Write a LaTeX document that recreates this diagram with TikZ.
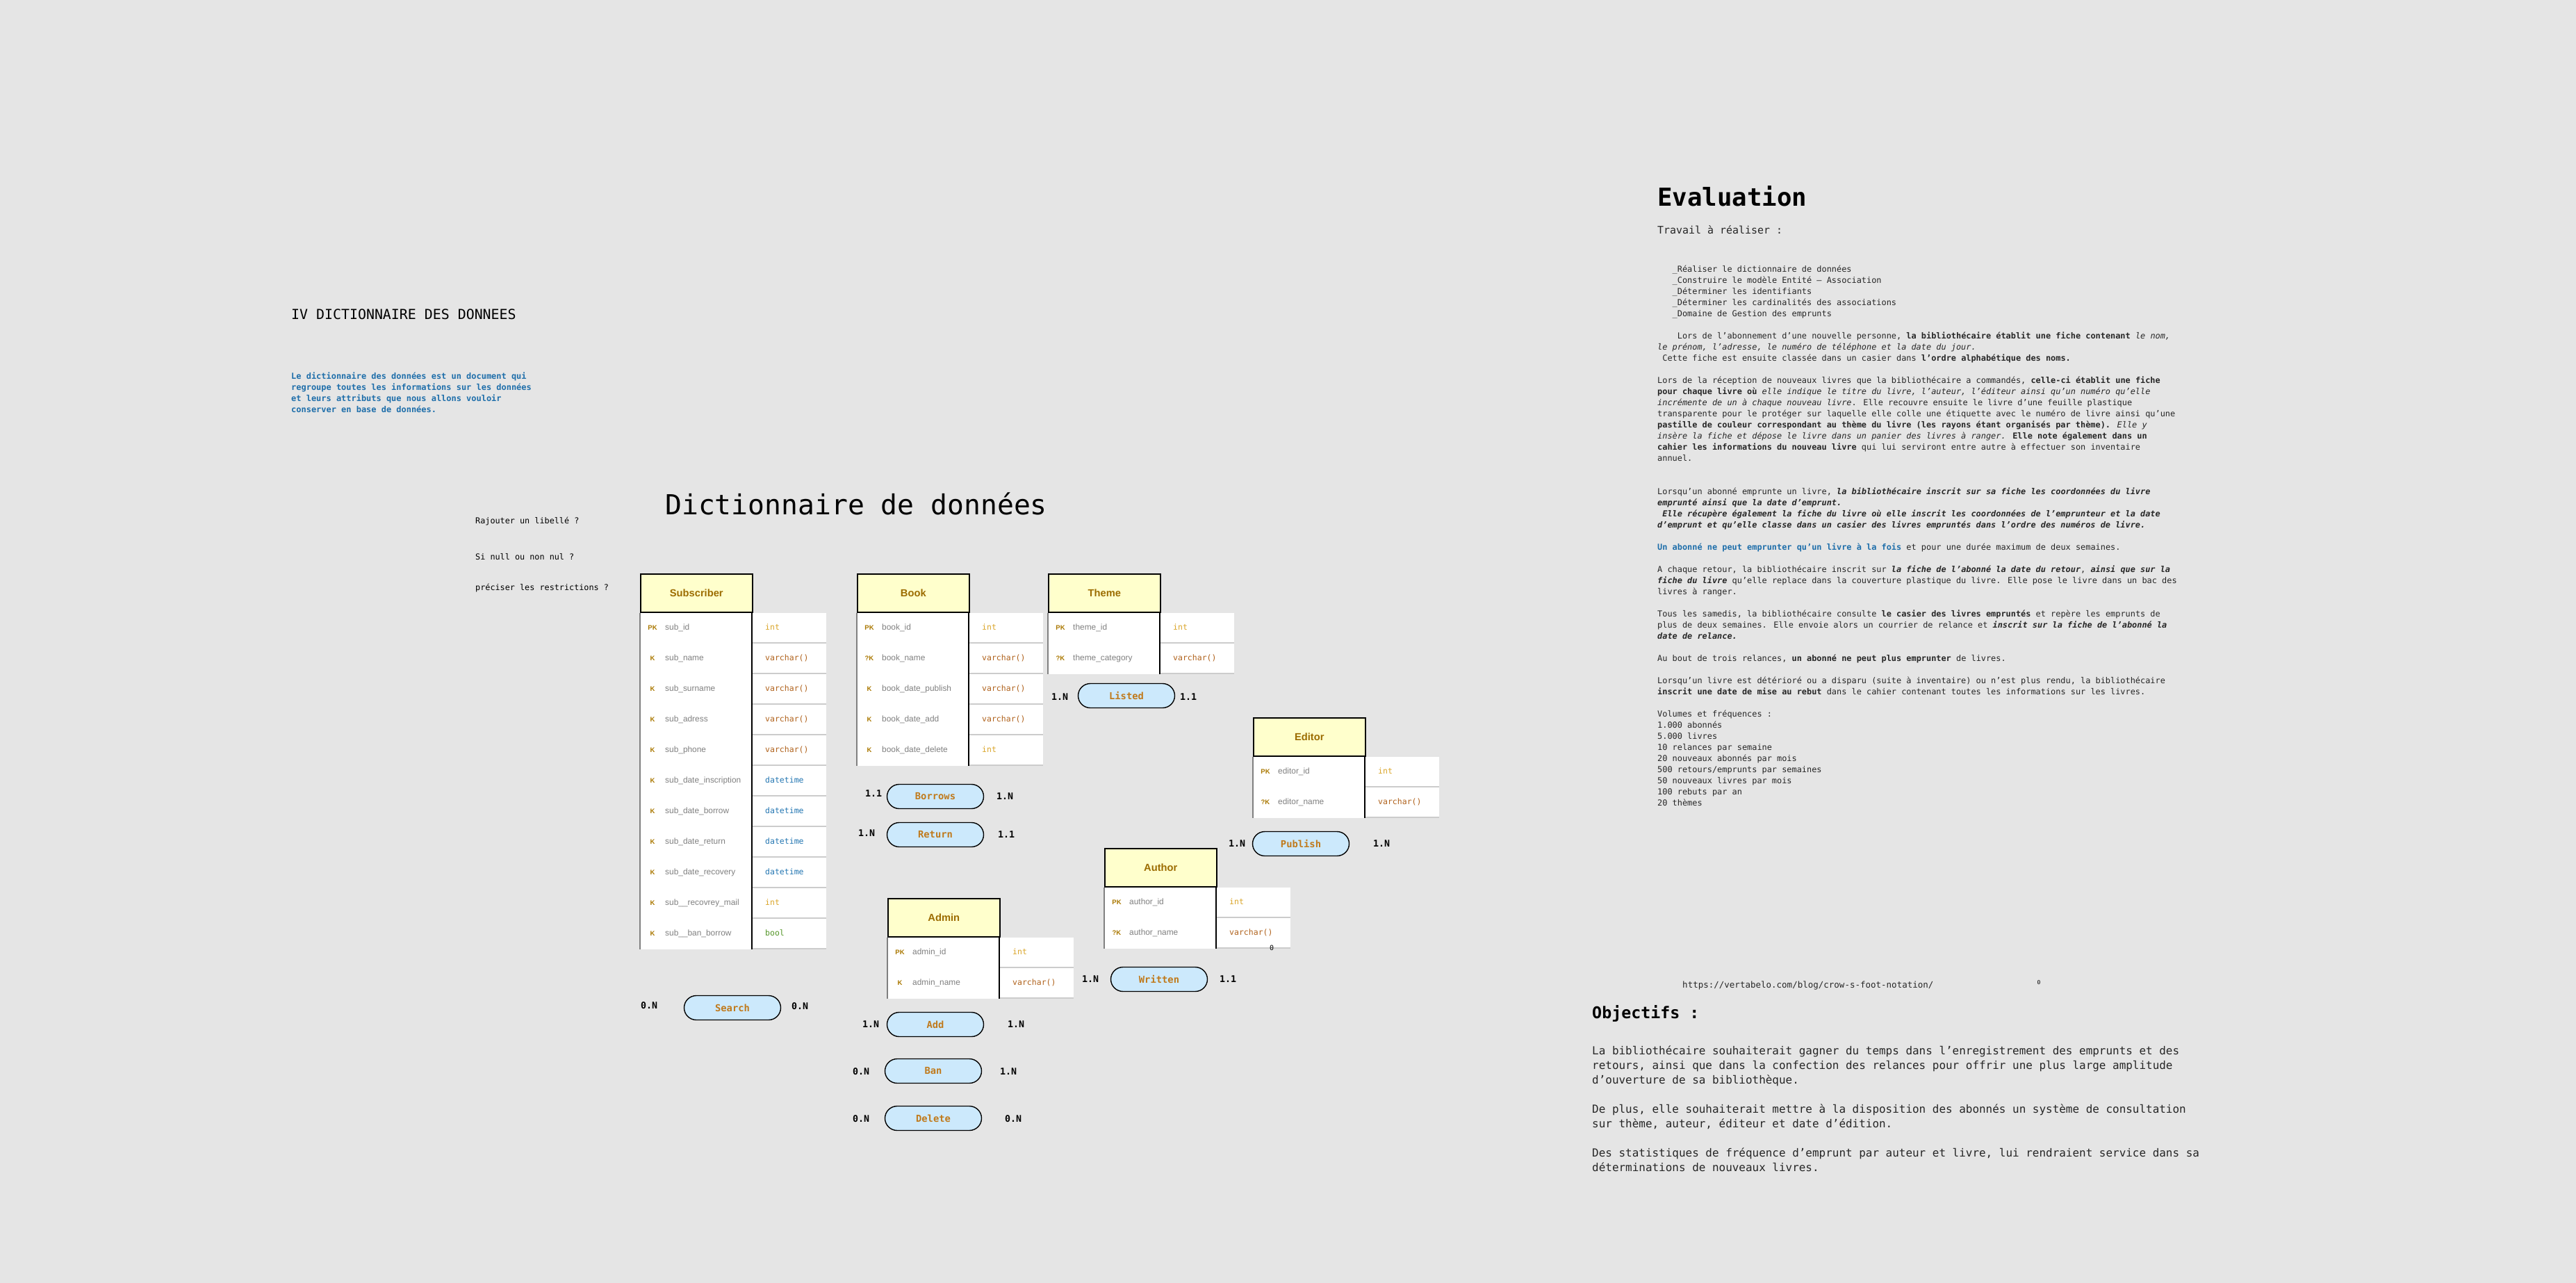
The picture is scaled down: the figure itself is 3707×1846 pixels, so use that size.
\documentclass[tikz,border=0pt]{standalone}
\usepackage{fontspec}
\setmainfont{DejaVu Sans Mono}
\newfontfamily\tablefont{Liberation Sans}
\definecolor{bggray}{RGB}{229,229,229}
\definecolor{headyellow}{RGB}{255,255,204}
\definecolor{headgold}{RGB}{156,108,0}
\definecolor{keygold}{RGB}{170,120,0}
\definecolor{fieldgray}{RGB}{128,128,128}
\definecolor{inttype}{RGB}{218,165,40}
\definecolor{chartype}{RGB}{176,98,28}
\definecolor{datetype}{RGB}{35,118,178}
\definecolor{booltype}{RGB}{84,150,40}
\definecolor{sepgray}{RGB}{204,204,204}
\definecolor{assocblue}{RGB}{204,233,252}
\definecolor{assocink}{RGB}{192,122,28}
\definecolor{noteblue}{RGB}{30,110,170}
\definecolor{bodyink}{RGB}{38,38,38}
\newcommand\boldit[1]{\textbf{\textit{#1}}}
\newcommand\entitybox[4]{%
  \node[entityhead] (#1) at (#2) {#3};
  \foreach \kk/\fld/\typ/\col [count=\i] in {#4} {
    \path (#1.south west) ++(0,{44*(\i-1)}) coordinate (#1row);
    \fill[white] (#1row) rectangle ++(268,44);
    \draw[typesep] (#1row) ++(162,43.2) -- ++(106,0);
    \draw[keyrule] (#1row) -- ++(0,44);
    \draw[fieldrule] (#1row) ++(161,0) -- ++(0,44);
    \node[keylabel] (#1-k\i) at ([shift={(18,22)}]#1row) {\kk};
    \node[fieldlabel] (#1-f\i) at ([shift={(36,22)}]#1row) {\fld};
    \node[typelabel, text=\col] (#1-t\i) at ([shift={(180,22)}]#1row) {\typ};
  }%
}
\begin{document}
\begin{tikzpicture}[x=1pt, y=-1pt,
    entityhead/.style={draw=black, line width=1.6pt, fill=headyellow, anchor=north west,
      minimum width=161, minimum height=55, inner sep=0, text=headgold,
      font=\tablefont\bfseries\fontsize{14.7}{16}\selectfont},
    typesep/.style={draw=sepgray, line width=1.6pt},
    keyrule/.style={draw=fieldgray, line width=2.4pt},
    fieldrule/.style={draw=black, line width=1.6pt},
    keylabel/.style={inner sep=0, text=keygold, font=\tablefont\bfseries\fontsize{9.5}{10}\selectfont},
    fieldlabel/.style={anchor=west, inner sep=0, text height=8.5pt, text depth=2.5pt, text=fieldgray,
      font=\tablefont\fontsize{11.9}{13}\selectfont},
    typelabel/.style={anchor=west, inner sep=0, text height=8.5pt, text depth=2.5pt,
      font=\fontsize{11.5}{13}\selectfont},
    assoc/.style={draw=black, line width=1.4pt, fill=assocblue, rounded corners=17.5pt,
      minimum width=139, minimum height=35, inner sep=0, text=assocink,
      font=\bfseries\fontsize{13.8}{14}\selectfont},
    card/.style={inner sep=0, font=\bfseries\fontsize{13.3}{14}\selectfont},
    bodytext/.style={anchor=north west, align=left, inner sep=0, text=bodyink}]

        \fill[bggray] (0,0) rectangle (3707,1846);
        \useasboundingbox (0,0) rectangle (3707,1846);

        \node[anchor=base west, inner sep=0, font=\fontsize{19.9}{22}\selectfont] (sectiontitle) at (419,459.3) {IV DICTIONNAIRE DES DONNEES};
        \node[bodytext, text=noteblue, font=\bfseries\fontsize{11.96}{16}\selectfont] (definition) at (419,533.5)
          {\rule{0pt}{1em}Le dictionnaire des données est un document qui\\
           regroupe toutes les informations sur les données\\
           et leurs attributs que nous allons vouloir\\
           conserver en base de données.};

        \node[anchor=base west, inner sep=0, font=\fontsize{11.8}{14}\selectfont] (question1) at (684,753.5) {Rajouter un libellé ?};
        \node[anchor=base west, inner sep=0, font=\fontsize{11.8}{14}\selectfont] (question2) at (684,805.5) {Si null ou non nul ?};
        \node[anchor=base west, inner sep=0, font=\fontsize{11.8}{14}\selectfont] (question3) at (684,849.5) {préciser les restrictions ?};
        \node[anchor=base west, inner sep=0, font=\fontsize{39.7}{44}\selectfont] (dicotitle) at (957,740) {Dictionnaire de données};

        \entitybox{subscriber}{921,825}{Subscriber}{%
          PK/sub\_id/int/inttype,%
          K/sub\_name/varchar()/chartype,%
          K/sub\_surname/varchar()/chartype,%
          K/sub\_adress/varchar()/chartype,%
          K/sub\_phone/varchar()/chartype,%
          K/sub\_date\_inscription/datetime/datetype,%
          K/sub\_date\_borrow/datetime/datetype,%
          K/sub\_date\_return/datetime/datetype,%
          K/sub\_date\_recovery/datetime/datetype,%
          K/sub\_\_recovrey\_mail/int/inttype,%
          K/sub\_\_ban\_borrow/bool/booltype}
        \entitybox{book}{1233,825}{Book}{%
          PK/book\_id/int/inttype,%
          ?K/book\_name/varchar()/chartype,%
          K/book\_date\_publish/varchar()/chartype,%
          K/book\_date\_add/varchar()/chartype,%
          K/book\_date\_delete/int/inttype}
        \entitybox{theme}{1508,825}{Theme}{%
          PK/theme\_id/int/inttype,%
          ?K/theme\_category/varchar()/chartype}
        \entitybox{editor}{1803,1032}{Editor}{%
          PK/editor\_id/int/inttype,%
          ?K/editor\_name/varchar()/chartype}
        \entitybox{author}{1589,1220}{Author}{%
          PK/author\_id/int/inttype,%
          ?K/author\_name/varchar()/chartype}
        \entitybox{admin}{1277,1292}{Admin}{%
          PK/admin\_id/int/inttype,%
          K/admin\_name/varchar()/chartype}

        \node[assoc] (listed) at (1621,1001) {Listed};
        \node[card] (listed-l) at (1525,1003) {1.N};
        \node[card] (listed-r) at (1710,1003) {1.1};
        \node[assoc] (borrows) at (1346,1146) {Borrows};
        \node[card] (borrows-l) at (1257,1142) {1.1};
        \node[card] (borrows-r) at (1446,1146) {1.N};
        \node[assoc] (return) at (1346,1201) {Return};
        \node[card] (return-l) at (1247,1199) {1.N};
        \node[card] (return-r) at (1448,1201) {1.1};
        \node[assoc] (publish) at (1872,1214) {Publish};
        \node[card] (publish-l) at (1780,1214) {1.N};
        \node[card] (publish-r) at (1988,1214) {1.N};
        \node[assoc] (written) at (1668,1409) {Written};
        \node[card] (written-l) at (1569,1409) {1.N};
        \node[card] (written-r) at (1767,1409) {1.1};
        \node[assoc] (search) at (1054,1450) {Search};
        \node[card] (search-l) at (934,1447) {0.N};
        \node[card] (search-r) at (1151,1448) {0.N};
        \node[assoc] (add) at (1346,1474) {Add};
        \node[card] (add-l) at (1253,1474) {1.N};
        \node[card] (add-r) at (1462,1474) {1.N};
        \node[assoc] (ban) at (1343,1541) {Ban};
        \node[card] (ban-l) at (1239,1542) {0.N};
        \node[card] (ban-r) at (1451,1542) {1.N};
        \node[assoc] (delete) at (1343,1609) {Delete};
        \node[card] (delete-l) at (1239,1610) {0.N};
        \node[card] (delete-r) at (1458,1610) {0.N};
        \node[anchor=base, inner sep=0, font=\fontsize{10}{12}\selectfont] (authorzero) at (1830,1367) {0};

        \node[anchor=base west, inner sep=0, font=\bfseries\fontsize{35.7}{40}\selectfont] (evaltitle) at (2385,296.7) {Evaluation};
        \node[anchor=base west, inner sep=0, text=bodyink, font=\fontsize{14.95}{18}\selectfont] (worktitle) at (2385,336) {Travail à réaliser :};
        \node[bodytext, font=\fontsize{11.9}{16}\selectfont] (statement) at (2385,379.6)
          {\rule{0pt}{1em}\phantom{xxx}\_Réaliser le dictionnaire de données\\
           \phantom{xxx}\_Construire le modèle Entité – Association\\
           \phantom{xxx}\_Déterminer les identifiants\\
           \phantom{xxx}\_Déterminer les cardinalités des associations\\
           \phantom{xxx}\_Domaine de Gestion des emprunts\\[16pt]
           \phantom{xxxx}Lors de l’abonnement d’une nouvelle personne, \textbf{la bibliothécaire établit une fiche contenant} \textit{le nom,}\\
           \textit{le prénom, l’adresse, le numéro de téléphone et la date du jour.}\\
           \phantom{x}Cette fiche est ensuite classée dans un casier dans \textbf{l’ordre alphabétique des noms.}\\[16pt]
           Lors de la réception de nouveaux livres que la bibliothécaire a commandés, \textbf{celle-ci établit une fiche}\\
           \textbf{pour chaque livre où} \textit{elle indique le titre du livre, l’auteur, l’éditeur ainsi qu’un numéro qu’elle}\\
           \textit{incrémente de un à chaque nouveau livre}. Elle recouvre ensuite le livre d’une feuille plastique\\
           transparente pour le protéger sur laquelle elle colle une étiquette avec le numéro de livre ainsi qu’une\\
           \textbf{pastille de couleur correspondant au thème du livre (les rayons étant organisés par thème).} \textit{Elle y}\\
           \textit{insère la fiche et dépose le livre dans un panier des livres à ranger.} \textbf{Elle note également dans un}\\
           \textbf{cahier les informations du nouveau livre} qui lui serviront entre autre à effectuer son inventaire\\
           annuel.\\[32pt]
           Lorsqu’un abonné emprunte un livre, \boldit{la bibliothécaire inscrit sur sa fiche les coordonnées du livre}\\
           \boldit{emprunté ainsi que la date d’emprunt.}\\
           \phantom{x}\boldit{Elle récupère également la fiche du livre où elle inscrit les coordonnées de l’emprunteur et la date}\\
           \boldit{d’emprunt et qu’elle classe dans un casier des livres empruntés dans l’ordre des numéros de livre.}\\[16pt]
           \textcolor{noteblue}{\textbf{Un abonné ne peut emprunter qu’un livre à la fois}} et pour une durée maximum de deux semaines.\\[16pt]
           A chaque retour, la bibliothécaire inscrit sur \boldit{la fiche de l’abonné la date du retour}, \boldit{ainsi que sur la}\\
           \boldit{fiche du livre} qu’elle replace dans la couverture plastique du livre. Elle pose le livre dans un bac des\\
           livres à ranger.\\[16pt]
           Tous les samedis, la bibliothécaire consulte \textbf{le casier des livres empruntés} et repère les emprunts de\\
           plus de deux semaines. Elle envoie alors un courrier de relance et \boldit{inscrit sur la fiche de l’abonné la}\\
           \boldit{date de relance.}\\[16pt]
           Au bout de trois relances, \textbf{un abonné ne peut plus emprunter} de livres.\\[16pt]
           Lorsqu’un livre est détérioré ou a disparu (suite à inventaire) ou n’est plus rendu, la bibliothécaire\\
           \textbf{inscrit une date de mise au rebut} dans le cahier contenant toutes les informations sur les livres.\\[16pt]
           Volumes et fréquences :\\
           1.000 abonnés\\
           5.000 livres\\
           10 relances par semaine\\
           20 nouveaux abonnés par mois\\
           500 retours/emprunts par semaines\\
           50 nouveaux livres par mois\\
           100 rebuts par an\\
           20 thèmes};

        \node[anchor=base west, inner sep=0, text=bodyink, font=\fontsize{12.5}{14}\selectfont] (reference) at (2421,1421.5) {https://vertabelo.com/blog/crow-s-foot-notation/};
        \node[anchor=base, inner sep=0, font=\fontsize{8}{10}\selectfont] (urlzero) at (2934,1416) {0};
        \node[anchor=base west, inner sep=0, font=\bfseries\fontsize{23.3}{26}\selectfont] (goaltitle) at (2291,1465) {Objectifs :};
        \node[bodytext, font=\fontsize{15.95}{21}\selectfont] (goals) at (2291,1501.8)
          {\rule{0pt}{1em}La bibliothécaire souhaiterait gagner du temps dans l’enregistrement des emprunts et des\\
           retours, ainsi que dans la confection des relances pour offrir une plus large amplitude\\
           d’ouverture de sa bibliothèque.\\[21pt]
           De plus, elle souhaiterait mettre à la disposition des abonnés un système de consultation\\
           sur thème, auteur, éditeur et date d’édition.\\[21pt]
           Des statistiques de fréquence d’emprunt par auteur et livre, lui rendraient service dans sa\\
           déterminations de nouveaux livres.};
      \end{tikzpicture}
\end{document}
